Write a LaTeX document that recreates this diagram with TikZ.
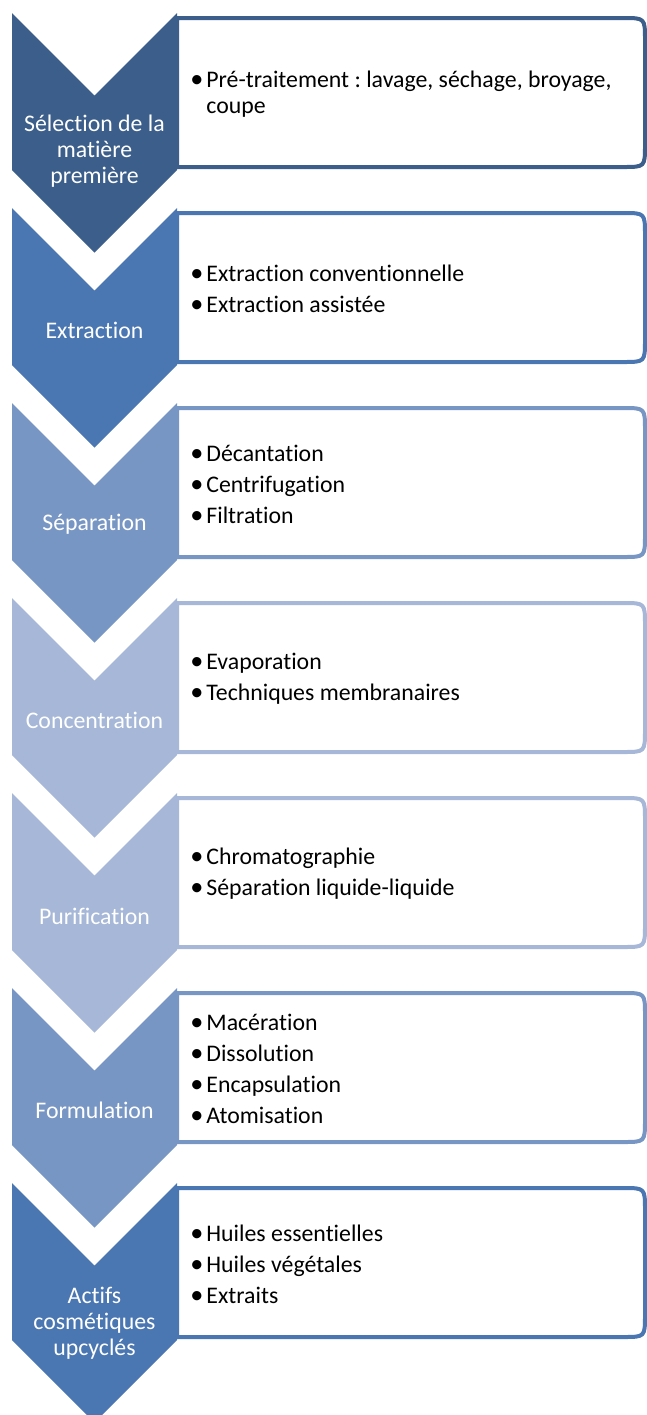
\documentclass[tikz,border=0pt]{standalone}
\usepackage{fontspec}
\setmainfont{Carlito}[RawFeature={-liga}]
\frenchspacing
\definecolor{bleuA}{HTML}{3C5E8A}
\definecolor{bleuB}{HTML}{4A76B1}
\definecolor{bleuC}{HTML}{7896C3}
\definecolor{bleuD}{HTML}{A6B7D7}
\newcommand{\itm}[1]{\makebox[10pt][l]{\hspace{2pt}\scalebox{1.1}{\textbullet}}#1}
\begin{document}
\begin{tikzpicture}
[
    x=0.5pt, y=-0.5pt,
    boite/.style={draw=#1, line width=2pt, fill=white, line join=round},
    etape/.style={text=white, align=center, inner sep=0pt, font=\fontsize{11.9}{13}\selectfont},
    liste/.style={anchor=west, align=left, inner sep=0pt, font=\fontsize{11.9}{12.8}\selectfont}
]
    \useasboundingbox (0,0) rectangle (647,1415);
    \foreach \i/\col/\lab/\dy/\items in {
        0/bleuA/{Sélection de la\\matière\\première}/138/{\itm{Pré-traitement : lavage, séchage, broyage,}\\\hspace*{10pt}coupe},
        1/bleuB/{Extraction}/122/{\itm{Extraction conventionnelle}\\[2.7pt]\itm{Extraction assistée}},
        2/bleuC/{Séparation}/121/{\itm{Décantation}\\[2.7pt]\itm{Centrifugation}\\[2.7pt]\itm{Filtration}},
        3/bleuD/{Concentration}/122/{\itm{Evaporation}\\[2.7pt]\itm{Techniques membranaires}},
        4/bleuD/{Purification}/123/{\itm{Chromatographie}\\[2.7pt]\itm{Séparation liquide-liquide}},
        5/bleuC/{Formulation}/122/{\itm{Macération}\\[2.7pt]\itm{Dissolution}\\[2.7pt]\itm{Encapsulation}\\[2.7pt]\itm{Atomisation}},
        6/bleuB/{Actifs\\cosmétiques\\upcyclés}/140/{\itm{Huiles essentielles}\\[2.7pt]\itm{Huiles végétales}\\[2.7pt]\itm{Extraits}}%
    } {
        \pgfmathsetmacro{\yo}{13+195*\i}
        % boite de droite, coins arrondis a droite
        \draw[boite=\col] (177,\yo+5) -- (623,\yo+5) .. controls (645,\yo+5) .. (645,\yo+27)
            -- (645,\yo+132) .. controls (645,\yo+154) .. (623,\yo+154) -- (177,\yo+154) -- cycle;
        % chevron
        \fill[\col] (12,\yo) -- (94.5,\yo+82.5) -- (177,\yo) -- (177,\yo+157)
            -- (94.5,\yo+239.5) -- (12,\yo+157) -- cycle;
        \node[etape] (etape\i) at (94.5,\yo+\dy) {\lab};
        \node[liste] (liste\i) at (186,\yo+81) {\items};
    }
\end{tikzpicture}
\end{document}
